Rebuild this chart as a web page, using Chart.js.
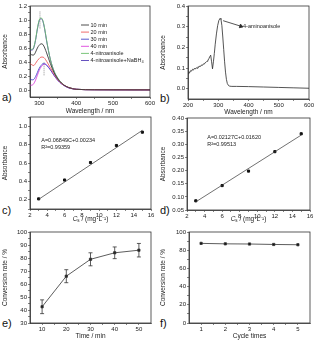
<!DOCTYPE html>
<html>
<head>
<meta charset="utf-8">
<script src="https://cdn.jsdelivr.net/npm/chart.js@4.4.0/dist/chart.umd.min.js"></script>
<style>
  html, body { margin: 0; padding: 0; background: #fff; }
  body { width: 318px; height: 343px; position: relative; overflow: hidden; font-family: "Liberation Sans", Arial, sans-serif; }
  canvas { position: absolute; }
  .lab { position: absolute; font-size: 11px; line-height: 11px; color: #111; }
</style>
</head>
<body>
<div class="lab" style="left:2px;top:92px">a)</div>
<div class="lab" style="left:160px;top:93px">b)</div>
<div class="lab" style="left:2px;top:205px">c)</div>
<div class="lab" style="left:160px;top:205px">d)</div>
<div class="lab" style="left:2px;top:318px">e)</div>
<div class="lab" style="left:160px;top:318px">f)</div>
<script>
// ---- data ----
// a) UV-vis spectra during reduction
const aWave = [275, 280, 285, 290, 295, 300, 305, 310, 315, 320, 330, 340, 350, 360, 370, 380, 390, 400, 450, 500, 600];
const a10 = [0.53, 0.50, 0.50, 0.54, 0.60, 0.64, 0.66, 0.65, 0.60, 0.53, 0.38, 0.25, 0.16, 0.10, 0.06, 0.035, 0.02, 0.01, 0.004, 0.003, 0.002];
const a20 = [0.38, 0.36, 0.35, 0.38, 0.42, 0.45, 0.47, 0.47, 0.45, 0.41, 0.32, 0.23, 0.15, 0.095, 0.06, 0.035, 0.02, 0.01, 0.004, 0.003, 0.002];
const a30 = [0.16, 0.145, 0.15, 0.19, 0.25, 0.31, 0.35, 0.375, 0.375, 0.355, 0.29, 0.21, 0.14, 0.09, 0.055, 0.03, 0.018, 0.01, 0.004, 0.003, 0.002];
const a40 = [0.07, 0.068, 0.09, 0.14, 0.21, 0.28, 0.33, 0.36, 0.37, 0.355, 0.29, 0.21, 0.14, 0.09, 0.055, 0.03, 0.018, 0.01, 0.004, 0.003, 0.002];
const aNitro = [0.59, 0.58, 0.61, 0.72, 0.88, 1.00, 1.03, 0.99, 0.87, 0.71, 0.44, 0.27, 0.17, 0.10, 0.06, 0.035, 0.02, 0.01, 0.004, 0.003, 0.002];
const aNitroNa = [0.58, 0.57, 0.60, 0.71, 0.87, 0.99, 1.02, 0.98, 0.86, 0.70, 0.44, 0.27, 0.17, 0.10, 0.06, 0.035, 0.02, 0.01, 0.004, 0.003, 0.002];
const aLabels = ["10 min", "20 min", "30 min", "40 min", "4-nitroanisole", "4-nitroanisole+NaBH₄"];
const aGuide1 = [[302, 0.88], [302, 1.12]];
const aGuide2 = [[313, 0.21], [313, 0.41]];

// b) 4-aminoanisole spectrum
const bWave = [200, 203, 206, 209, 212, 215, 218, 221, 224, 227, 230, 233, 236, 239, 242, 245, 248, 251, 254, 257, 260, 263, 266, 269, 272, 275, 278, 281, 284, 287, 290, 294, 298, 302, 306, 309, 312, 315, 318, 321, 324, 327, 330, 334, 338, 345, 360, 400, 450, 500, 550, 600];
const bAbs = [0.072, 0.082, 0.078, 0.088, 0.085, 0.094, 0.09, 0.098, 0.095, 0.101, 0.099, 0.106, 0.104, 0.11, 0.108, 0.115, 0.113, 0.12, 0.119, 0.126, 0.128, 0.133, 0.138, 0.145, 0.155, 0.162, 0.13, 0.096, 0.13, 0.17, 0.215, 0.265, 0.305, 0.33, 0.34, 0.335, 0.305, 0.25, 0.19, 0.13, 0.08, 0.045, 0.025, 0.015, 0.012, 0.011, 0.011, 0.01, 0.008, 0.006, 0.004, 0.002];
const bArrow = [[316, 0.329], [375, 0.302]];

// c) / d) calibration
const conc = [3, 6, 9, 12, 15];
const cAbs = [0.21, 0.415, 0.605, 0.79, 0.935];
const cFit = [[3, 0.205], [15, 0.955]];
const dAbs = [0.085, 0.143, 0.198, 0.272, 0.34];
const dFit = [[3, 0.081], [15, 0.335]];

// e) conversion vs time
const eTime = [10, 20, 30, 40, 50];
const eConv = [42.5, 66, 79, 84, 86];
const eErr = [5.3, 5, 5, 4.5, 5.2];

// f) recycling
const fCycle = [1, 2, 3, 4, 5];
const fConv = [87.5, 87, 86.8, 86.3, 86];

// ---- helpers ----
const F = "'Liberation Sans', Arial, sans-serif";
const INK = "#333";
const xy = (xs, ys) => xs.map((x, i) => ({ x, y: ys[i] }));
const pts = arr => arr.map(p => ({ x: p[0], y: p[1] }));
const range = (a, b, s) => { const r = []; for (let v = a; v <= b + 1e-9; v += s) r.push(+v.toFixed(4)); return r; };

function axis(min, max, major, minor, fmt, title, pos) {
  const all = [...major, ...minor].sort((p, q) => p - q);
  return {
    type: "linear", position: pos, min, max,
    afterBuildTicks: s => { s.ticks = all.map(v => ({ value: v })); },
    ticks: {
      autoSkip: false, maxRotation: 0, padding: 1, color: "#222",
      font: { size: 6, family: F },
      callback: v => major.some(m => Math.abs(m - v) < 1e-6) ? fmt(v) : ""
    },
    grid: { drawOnChartArea: false, tickLength: 2, color: INK, lineWidth: 0.6 },
    border: { color: INK, width: 0.8 },
    title: { display: !!title, text: title || "", color: "#222", font: { size: 6.5, family: F }, padding: { top: 1, bottom: 0 } }
  };
}

const frame = {
  id: "frame",
  afterDraw(ch) {
    const a = ch.chartArea, c = ch.ctx;
    c.save();
    c.strokeStyle = INK; c.lineWidth = 0.8;
    c.strokeRect(a.left, a.top, a.right - a.left, a.bottom - a.top);
    c.restore();
  }
};

// texts placed at data coordinates
const notes = {
  id: "notes",
  afterDraw(ch, args, opts) {
    if (!opts.items) return;
    const c = ch.ctx, sx = ch.scales.x, sy = ch.scales.y;
    c.save();
    c.fillStyle = "#222"; c.textBaseline = "middle"; c.textAlign = "left";
    opts.items.forEach(t => {
      c.font = (t.style || "") + " " + (t.size || 6) + "px " + F;
      c.fillText(t.text, sx.getPixelForValue(t.x), sy.getPixelForValue(t.y));
    });
    c.restore();
  }
};

// x-axis title with an italic C and subscript s
const concTitle = {
  id: "concTitle",
  afterDraw(ch) {
    const c = ch.ctx, a = ch.chartArea;
    const y = ch.height - 4;
    const parts = [["C", "italic 6.5px " + F, 0], ["s", "4.5px " + F, 1.5], [" / (mg·L⁻¹)", "6.5px " + F, 0]];
    c.save();
    c.fillStyle = "#222"; c.textBaseline = "middle"; c.textAlign = "left";
    let w = 0;
    parts.forEach(p => { c.font = p[1]; w += c.measureText(p[0]).width; });
    let x = (a.left + a.right) / 2 - w / 2;
    parts.forEach(p => { c.font = p[1]; c.fillText(p[0], x, y + p[2]); x += c.measureText(p[0]).width; });
    c.restore();
  }
};

const errbars = {
  id: "errbars",
  afterDatasetsDraw(ch) {
    const c = ch.ctx, sx = ch.scales.x, sy = ch.scales.y;
    ch.data.datasets.forEach(ds => {
      if (!ds.errors) return;
      c.save();
      c.strokeStyle = INK; c.lineWidth = 0.8;
      ds.data.forEach((p, i) => {
        const x = sx.getPixelForValue(p.x);
        const y1 = sy.getPixelForValue(p.y - ds.errors[i]);
        const y2 = sy.getPixelForValue(p.y + ds.errors[i]);
        c.beginPath();
        c.moveTo(x, y1); c.lineTo(x, y2);
        c.moveTo(x - 2, y1); c.lineTo(x + 2, y1);
        c.moveTo(x - 2, y2); c.lineTo(x + 2, y2);
        c.stroke();
      });
      c.restore();
    });
  }
};

const legendA = {
  id: "legendA",
  afterDraw(ch) {
    const c = ch.ctx, a = ch.chartArea;
    const x0 = a.left + 51, y0 = a.top + 19, step = 7.1;
    c.save();
    c.font = "5.5px " + F; c.textBaseline = "middle"; c.fillStyle = "#222";
    ch.data.datasets.forEach((ds, i) => {
      if (!ds.label) return;
      const y = y0 + i * step;
      c.strokeStyle = ds.borderColor; c.lineWidth = 0.9;
      c.beginPath(); c.moveTo(x0, y); c.lineTo(x0 + 8, y); c.stroke();
      c.fillText(ds.label, x0 + 9.5, y);
    });
    c.restore();
  }
};

function panel(id, box, plot, cfg) {
  const cv = document.createElement("canvas");
  cv.id = id; cv.width = box.w; cv.height = box.h;
  cv.style.left = box.l + "px"; cv.style.top = box.t + "px";
  cv.style.width = box.w + "px"; cv.style.height = box.h + "px";
  document.body.appendChild(cv);
  const o = cfg.options;
  o.responsive = false; o.animation = false; o.devicePixelRatio = 1;
  o.layout = { padding: { left: 0, top: plot.t - box.t, right: box.l + box.w - plot.r, bottom: 0 } };
  o.scales.x.afterFit = s => { s.height = box.t + box.h - plot.b; };
  o.scales.y.afterFit = s => { s.width = plot.l - box.l; };
  o.plugins = Object.assign({ legend: { display: false }, tooltip: { enabled: false } }, o.plugins || {});
  cfg.plugins = [frame, notes, errbars].concat(cfg.plugins || []);
  return new Chart(cv, cfg);
}

const curve = (label, xs, ys, color) => ({
  label, data: xy(xs, ys), borderColor: color, borderWidth: 0.9, pointRadius: 0,
  showLine: true, cubicInterpolationMode: "monotone", tension: 0.4
});
const guide = p => ({ data: pts(p), borderColor: "#777", borderWidth: 0.8, borderDash: [1, 1], pointRadius: 0, showLine: true });
const marks = (xs, ys) => ({ data: xy(xs, ys), borderColor: INK, backgroundColor: "#111", borderWidth: 0.8, pointStyle: "rect", pointRadius: 1.6, showLine: true });
const dotsOnly = (xs, ys) => ({ data: xy(xs, ys), borderColor: "#111", backgroundColor: "#111", pointStyle: "rect", pointRadius: 1.5, showLine: false });
const fitLine = p => ({ data: pts(p), borderColor: INK, borderWidth: 0.7, pointRadius: 0, showLine: true });

// a)
panel("ca", { l: 0, t: 0, w: 158, h: 115 }, { l: 30, t: 6, r: 150, b: 97 }, {
  type: "scatter",
  data: { datasets: [
    curve(aLabels[0], aWave, a10, "#3a3a3a"),
    curve(aLabels[1], aWave, a20, "#ee5b5b"),
    curve(aLabels[2], aWave, a30, "#4646c8"),
    curve(aLabels[3], aWave, a40, "#dd44dd"),
    curve(aLabels[4], aWave, aNitro, "#6cbf6c"),
    curve(aLabels[5], aWave, aNitroNa, "#5540b8"),
    guide(aGuide1), guide(aGuide2)
  ] },
  options: { scales: {
    x: axis(275, 600, [300, 400, 500, 600], [350, 450, 550], v => String(v), "Wavelength / nm", "bottom"),
    y: axis(-0.1, 1.2, range(0, 1.2, 0.2), range(0.1, 1.1, 0.2), v => v.toFixed(1), "Absorbance", "left")
  } },
  plugins: [legendA]
});

// b)
panel("cb", { l: 158, t: 0, w: 160, h: 116 }, { l: 188, t: 6, r: 309, b: 99 }, {
  type: "scatter",
  data: { datasets: [
    { data: xy(bWave, bAbs), borderColor: "#2a2a2a", borderWidth: 0.8, pointRadius: 0, showLine: true, tension: 0 },
    { data: pts(bArrow), borderColor: "#2a2a2a", backgroundColor: "#2a2a2a", borderWidth: 0.8, showLine: true,
      pointStyle: "triangle", pointRadius: [0, 2.2], rotation: 108 }
  ] },
  options: {
    scales: {
      x: axis(200, 600, range(200, 600, 100), range(250, 550, 100), v => String(v), "Wavelength / nm", "bottom"),
      y: axis(-0.05, 0.4, range(0, 0.4, 0.1), range(0.05, 0.35, 0.1), v => v.toFixed(1), "Absorbance", "left")
    },
    plugins: { notes: { items: [{ text: "4-aminoanisole", x: 382, y: 0.302, size: 5.5 }] } }
  }
});

// c)
panel("cc", { l: 0, t: 112, w: 158, h: 111 }, { l: 30, t: 117, r: 151, b: 209 }, {
  type: "scatter",
  data: { datasets: [fitLine(cFit), dotsOnly(conc, cAbs)] },
  options: {
    scales: {
      x: axis(2, 16, range(2, 16, 2), range(3, 15, 2), v => String(v), "", "bottom"),
      y: axis(0.1, 1.1, range(0.2, 1.0, 0.2), range(0.1, 1.1, 0.2), v => v.toFixed(1), "Absorbance", "left")
    },
    plugins: { notes: { items: [
      { text: "A=0.06849C+0.00234", x: 3.3, y: 0.84, size: 5.5 },
      { text: "R²=0.99359", x: 3.3, y: 0.765, size: 5.5 }
    ] } }
  },
  plugins: [concTitle]
});

// d)
panel("cd", { l: 158, t: 112, w: 160, h: 111 }, { l: 187, t: 118, r: 310, b: 210 }, {
  type: "scatter",
  data: { datasets: [fitLine(dFit), dotsOnly(conc, dAbs)] },
  options: {
    scales: {
      x: axis(2, 16, range(2, 16, 2), range(3, 15, 2), v => String(v), "", "bottom"),
      y: axis(0.05, 0.4, range(0.05, 0.4, 0.05), [], v => v.toFixed(2), "Absorbance", "left")
    },
    plugins: { notes: { items: [
      { text: "A=0.02127C+0.01620", x: 4.3, y: 0.325, size: 5.5 },
      { text: "R²=0.99513", x: 4.3, y: 0.298, size: 5.5 }
    ] } }
  },
  plugins: [concTitle]
});

// e)
panel("ce", { l: 0, t: 226, w: 158, h: 114 }, { l: 30, t: 232, r: 151, b: 323 }, {
  type: "scatter",
  data: { datasets: [Object.assign(marks(eTime, eConv), { errors: eErr })] },
  options: { scales: {
    x: axis(5, 55, range(10, 50, 10), range(15, 45, 10), v => String(v), "Time / min", "bottom"),
    y: axis(30, 100, range(30, 100, 10), range(35, 95, 10), v => String(v), "Conversion rate / %", "left")
  } }
});

// f)
panel("cf", { l: 158, t: 226, w: 160, h: 114 }, { l: 189, t: 232, r: 310, b: 323 }, {
  type: "scatter",
  data: { datasets: [marks(fCycle, fConv)] },
  options: { scales: {
    x: axis(0.5, 5.5, range(1, 5, 1), range(1.5, 4.5, 1), v => String(v), "Cycle times", "bottom"),
    y: axis(0, 100, range(0, 100, 20), range(10, 90, 20), v => String(v), "Conversion rate / %", "left")
  } }
});
</script>
</body>
</html>
